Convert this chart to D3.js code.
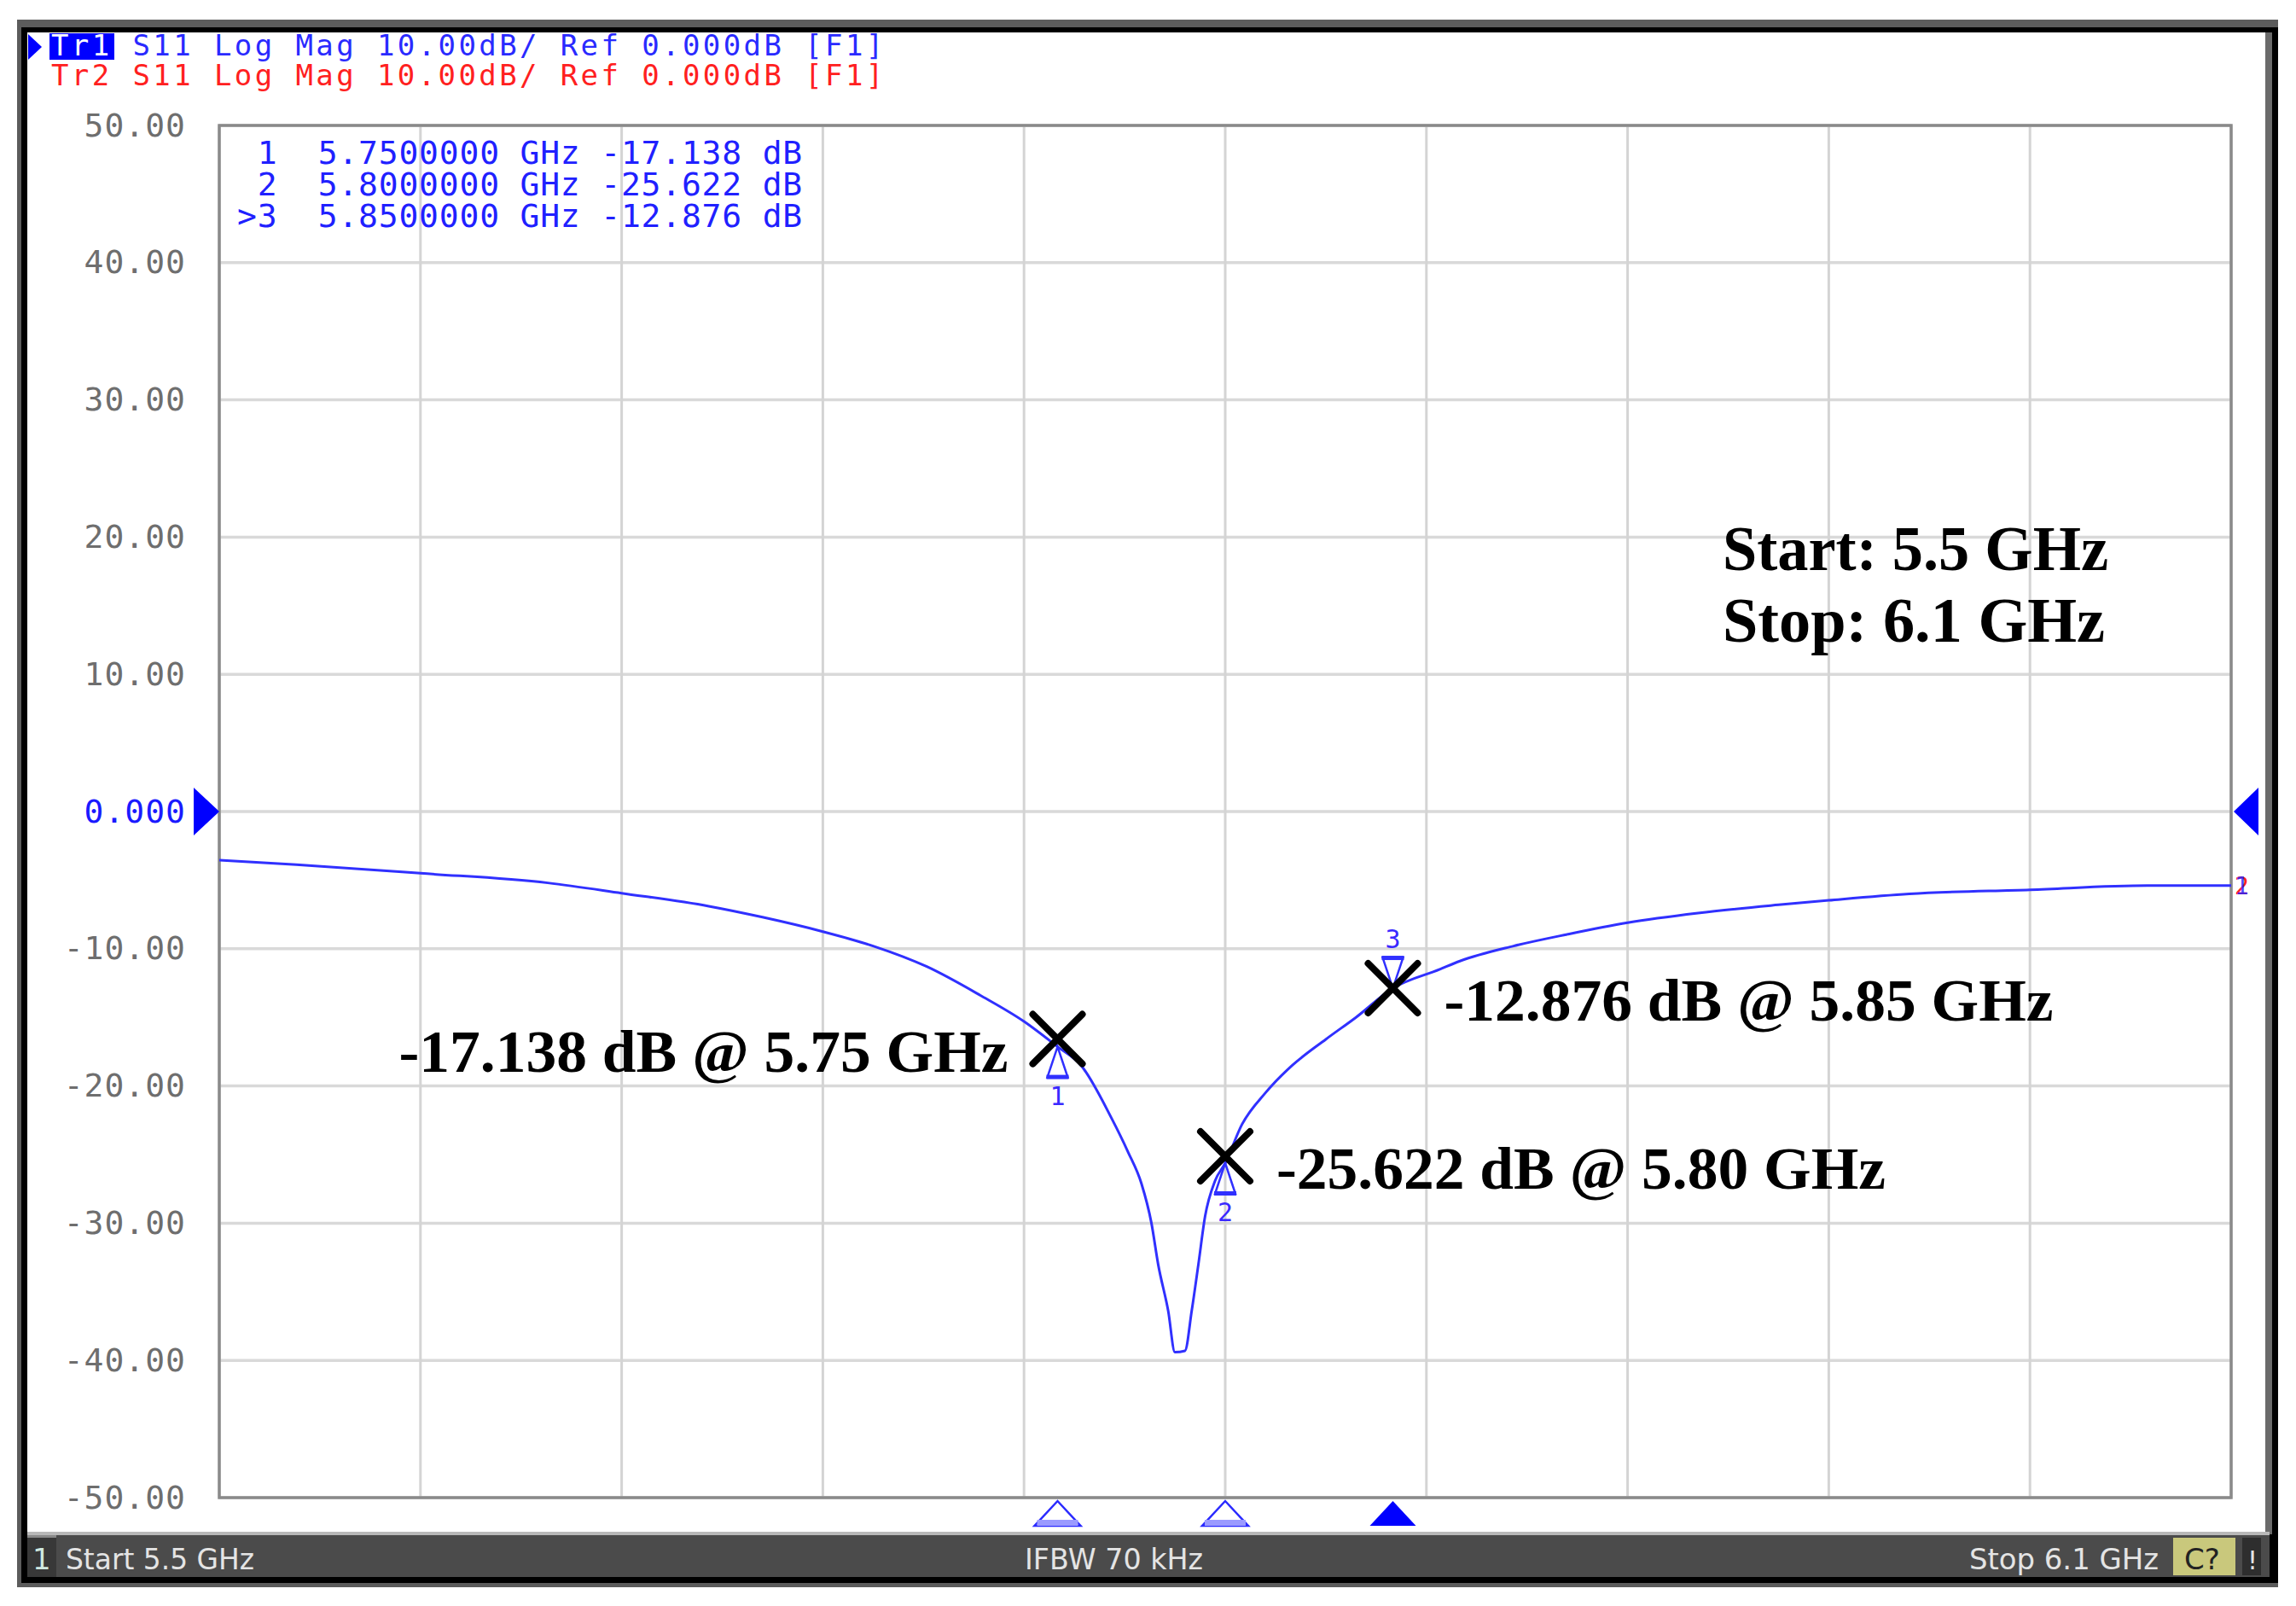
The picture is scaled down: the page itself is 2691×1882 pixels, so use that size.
<!DOCTYPE html>
<meta charset="utf-8">
<style>
body { margin: 0; background: #fff; }
text { white-space: pre; }
.mono { font-family: "DejaVu Sans Mono", monospace; }
.serif { font-family: "Palatino Linotype", "Book Antiqua", Palatino, "Liberation Serif", serif; font-weight: bold; fill: #000; }
.status { font-family: "DejaVu Sans", sans-serif; }
</style>
<script src="https://d3js.org/d3.v7.min.js"></script>
<body>
<script>

// S11 trace (GHz, dB)
var freq = [5.500, 5.523, 5.560, 5.598, 5.620, 5.646, 5.662, 5.680, 5.695, 5.711,
            5.727, 5.740, 5.750, 5.757, 5.766, 5.771, 5.775, 5.778, 5.780, 5.783,
            5.785, 5.788, 5.790, 5.792, 5.794, 5.797, 5.800, 5.805, 5.812, 5.820,
            5.830, 5.839, 5.850, 5.864, 5.870, 5.886, 5.902, 5.920, 5.941, 5.965,
            5.980, 6.004, 6.040, 6.075, 6.100];
var s11 = [-3.55, -3.87, -4.5, -5.2, -5.95, -6.9, -7.7, -8.75, -9.8, -11.3,
           -13.4, -15.3, -17.14, -18.5, -22.3, -24.8, -27.1, -30.0, -33.0, -36.4,
           -39.4, -39.3, -36.4, -33.0, -29.5, -26.9, -25.62, -22.8, -20.5, -18.5,
           -16.6, -15.0, -12.88, -11.5, -10.9, -9.8, -8.95, -8.1, -7.4, -6.8,
           -6.47, -6.0, -5.7, -5.4, -5.4];

var markerId = ["1", "2", "3"];
var markerFreq = [5.75, 5.80, 5.85];
var markerDb = [-17.138, -25.622, -12.876];
var activeMarker = "3";

var yTicks = [50, 40, 30, 20, 10, 0, -10, -20, -30, -40, -50];
var yLabels = ["50.00", "40.00", "30.00", "20.00", "10.00", "0.000",
               "-10.00", "-20.00", "-30.00", "-40.00", "-50.00"];

var startGHz = 5.5, stopGHz = 6.1, divisions = 10;
var headerTr1 = " S11 Log Mag 10.00dB/ Ref 0.000dB [F1]";
var headerTr2 = "Tr2 S11 Log Mag 10.00dB/ Ref 0.000dB [F1]";
var statusLeft = "Start 5.5 GHz", statusMid = "IFBW 70 kHz", statusRight = "Stop 6.1 GHz";
var sweepNote = ["Start: 5.5 GHz", "Stop: 6.1 GHz"];

var width = 2691, height = 1882;
var plotL = 257, plotR = 2615, plotT = 147, plotB = 1755;

var svg = d3.select("body").append("svg")
    .attr("width", width)
    .attr("height", height);

// window frame
svg.append("rect").attr("x", 20).attr("y", 23).attr("width", 2650).attr("height", 1837).attr("fill", "#5c5c5c");
svg.append("rect").attr("x", 25).attr("y", 32).attr("width", 2645).attr("height", 1823).attr("fill", "#000");
svg.append("rect").attr("x", 32).attr("y", 38).attr("width", 2623).attr("height", 1760).attr("fill", "#fff");
svg.append("rect").attr("x", 2655).attr("y", 38).attr("width", 8).attr("height", 1760).attr("fill", "#6a6a6a");

var x = d3.scaleLinear().domain([startGHz, stopGHz]).range([plotL, plotR]);
var y = d3.scaleLinear().domain([-50, 50]).range([plotB, plotT]);

var xGrid = d3.range(divisions + 1).map(function(i) { return startGHz + i * (stopGHz - startGHz) / divisions; });

// grid
var grid = svg.append("g");
grid.selectAll(".hg").data(yTicks).enter().append("line")
    .attr("x1", plotL).attr("x2", plotR)
    .attr("y1", function(d) { return y(d); }).attr("y2", function(d) { return y(d); })
    .attr("stroke", "#d9d9d9").attr("stroke-width", 3.5);
grid.selectAll(".vg").data(xGrid).enter().append("line")
    .attr("y1", plotT).attr("y2", plotB)
    .attr("x1", function(d) { return x(d); }).attr("x2", function(d) { return x(d); })
    .attr("stroke", "#d4d4d4").attr("stroke-width", 3);
svg.append("rect").attr("x", plotL).attr("y", plotT).attr("width", plotR - plotL).attr("height", plotB - plotT)
    .attr("fill", "none").attr("stroke", "#8a8a8a").attr("stroke-width", 3.5);

// y labels
var yAxis = svg.append("g")
    .attr("transform", "translate(" + plotL + ",0)")
    .call(d3.axisLeft(y).tickValues(yTicks).tickSize(0).tickPadding(39)
      .tickFormat(function(d, i) { return yLabels[i]; }));
yAxis.select(".domain").remove();
yAxis.selectAll("text")
    .attr("class", "mono")
    .attr("font-size", 38)
    .attr("letter-spacing", 1)
    .attr("fill", function(d) { return d === 0 ? "#1a1aff" : "#6e6e6e"; });

// reference level arrows
svg.append("path")
    .attr("d", "M" + (plotL - 30) + "," + (y(0) - 28) + "L" + plotL + "," + y(0) + "L" + (plotL - 30) + "," + (y(0) + 28) + "Z")
    .attr("fill", "#0000ff");
svg.append("path")
    .attr("d", "M" + (plotR + 32) + "," + (y(0) - 28) + "L" + (plotR + 3) + "," + y(0) + "L" + (plotR + 32) + "," + (y(0) + 28) + "Z")
    .attr("fill", "#0000ff");

// trace
var line = d3.line()
    .x(function(d, i) { return x(freq[i]); })
    .y(function(d) { return y(d); })
    .curve(d3.curveMonotoneX);
svg.append("path")
    .datum(s11)
    .attr("d", line)
    .attr("fill", "none")
    .attr("stroke", "#3030ff")
    .attr("stroke-width", 3);

// trace end labels
svg.append("text").attr("class", "mono").attr("x", plotR + 4).attr("y", y(s11[s11.length - 1]) + 10)
    .attr("font-size", 28).attr("fill", "#ff2020").text("2");
svg.append("text").attr("class", "mono").attr("x", plotR + 4).attr("y", y(s11[s11.length - 1]) + 10)
    .attr("font-size", 28).attr("fill", "#2020ff").attr("opacity", 0.8).text("1");

// header
svg.append("path").attr("d", "M33,40L49,55L33,70Z").attr("fill", "#0000ff");
svg.append("rect").attr("x", 58).attr("y", 39).attr("width", 76).attr("height", 31).attr("fill", "#0000ff");
var h1 = svg.append("text").attr("class", "mono").attr("x", 60).attr("y", 65)
    .attr("font-size", 34).attr("letter-spacing", 3.4).attr("fill", "#2a2aff");
h1.append("tspan").attr("fill", "#fff").text("Tr1");
h1.append("tspan").text(headerTr1);
svg.append("text").attr("class", "mono").attr("x", 60).attr("y", 100)
    .attr("font-size", 34).attr("letter-spacing", 3.4).attr("fill", "#ff2020").text(headerTr2);

// marker readout
svg.selectAll(".readout").data(markerId).enter().append("text")
    .attr("class", "mono")
    .attr("x", 278)
    .attr("y", function(d, i) { return 192 + i * 37; })
    .attr("font-size", 38)
    .attr("letter-spacing", 0.8)
    .attr("fill", "#2020ff")
    .text(function(d, i) {
      var id = (d === activeMarker ? ">" : " ") + d;
      return id + "  " + markerFreq[i].toFixed(7) + " GHz " + markerDb[i].toFixed(3) + " dB";
    });

// marker symbols on the trace
markerId.forEach(function(d, i) {
  var mx = x(markerFreq[i]), my = y(markerDb[i]);
  var g = svg.append("g");
  if (d === activeMarker) {
    g.append("path").attr("d", "M" + (mx - 12) + "," + (my - 36) + "L" + (mx + 12) + "," + (my - 36) + "L" + mx + "," + my + "Z")
      .attr("fill", "none").attr("stroke", "#3030ff").attr("stroke-width", 2.5);
    g.append("rect").attr("x", mx - 13).attr("y", my - 38).attr("width", 26).attr("height", 5).attr("fill", "#3030ff");
    g.append("text").attr("class", "mono").attr("x", mx).attr("y", my - 47).attr("text-anchor", "middle")
      .attr("font-size", 30).attr("fill", "#3a2aff").text(d);
  } else {
    g.append("path").attr("d", "M" + mx + "," + my + "L" + (mx + 12) + "," + (my + 36) + "L" + (mx - 12) + "," + (my + 36) + "Z")
      .attr("fill", "none").attr("stroke", "#3030ff").attr("stroke-width", 2.5);
    g.append("rect").attr("x", mx - 13).attr("y", my + 33).attr("width", 26).attr("height", 5).attr("fill", "#3030ff");
    g.append("text").attr("class", "mono").attr("x", mx).attr("y", my + 68).attr("text-anchor", "middle")
      .attr("font-size", 30).attr("fill", "#3a2aff").text(d);
  }
  // triangles under the graticule
  var ty = plotB + 4, th = 29, tw = 27;
  if (d === activeMarker) {
    g.append("path").attr("d", "M" + mx + "," + ty + "L" + (mx + tw) + "," + (ty + th) + "L" + (mx - tw) + "," + (ty + th) + "Z")
      .attr("fill", "#0000ff");
  } else {
    g.append("path").attr("d", "M" + mx + "," + ty + "L" + (mx + tw) + "," + (ty + th) + "L" + (mx - tw) + "," + (ty + th) + "Z")
      .attr("fill", "#fff").attr("stroke", "#2a2aff").attr("stroke-width", 2.5);
    g.append("rect").attr("x", mx - tw + 3).attr("y", ty + th - 7).attr("width", 2 * tw - 6).attr("height", 7).attr("fill", "#9a9aff");
  }
});

// annotation crosses and text
var annSide = ["left", "right", "right"];
var crossDy = [-9, -8, 0];
markerId.forEach(function(d, i) {
  var mx = x(markerFreq[i]), my = y(markerDb[i]) + crossDy[i];
  var s = 29;
  svg.append("path")
    .attr("d", "M" + (mx - s) + "," + (my - s) + "L" + (mx + s) + "," + (my + s) + "M" + (mx + s) + "," + (my - s) + "L" + (mx - s) + "," + (my + s))
    .attr("stroke", "#000").attr("stroke-width", 8).attr("stroke-linecap", "round");
  var label = markerDb[i].toFixed(3) + " dB @ " + markerFreq[i].toFixed(2) + " GHz";
  svg.append("text")
    .attr("class", "serif")
    .attr("x", annSide[i] === "left" ? mx - 58 : mx + 60)
    .attr("y", my + 38)
    .attr("text-anchor", annSide[i] === "left" ? "end" : "start")
    .attr("font-size", 70)
    .attr("textLength", 714)
    .attr("lengthAdjust", "spacingAndGlyphs")
    .text(label);
});

svg.selectAll(".note").data(sweepNote).enter().append("text")
    .attr("class", "serif")
    .attr("x", 2019)
    .attr("y", function(d, i) { return 668 + i * 84; })
    .attr("font-size", 75)
    .attr("textLength", function(d, i) { return i ? 448 : 452; })
    .attr("lengthAdjust", "spacingAndGlyphs")
    .text(function(d) { return d; });

// status bar
svg.append("rect").attr("x", 32).attr("y", 1795).attr("width", 2628).attr("height", 4).attr("fill", "#b8b8b8");
svg.append("rect").attr("x", 32).attr("y", 1799).attr("width", 2628).attr("height", 49).attr("fill", "#4b4b4b");
svg.append("rect").attr("x", 32).attr("y", 1799).attr("width", 34).attr("height", 49).attr("fill", "#383838");
svg.append("rect").attr("x", 32).attr("y", 1799).attr("width", 34).attr("height", 3).attr("fill", "#8a8a8a");
svg.append("text").attr("class", "status").attr("x", 38).attr("y", 1839).attr("font-size", 34).attr("fill", "#cfe8e0").text("1");
svg.append("text").attr("class", "status").attr("x", 77).attr("y", 1839).attr("font-size", 34).attr("fill", "#e4e4e4")
    .attr("textLength", 221).attr("lengthAdjust", "spacingAndGlyphs").text(statusLeft);
svg.append("text").attr("class", "status").attr("x", 1201).attr("y", 1839).attr("font-size", 34).attr("fill", "#e4e4e4")
    .attr("textLength", 209).attr("lengthAdjust", "spacingAndGlyphs").text(statusMid);
svg.append("text").attr("class", "status").attr("x", 2308).attr("y", 1839).attr("font-size", 34).attr("fill", "#e4e4e4")
    .attr("textLength", 222).attr("lengthAdjust", "spacingAndGlyphs").text(statusRight);
svg.append("rect").attr("x", 2547).attr("y", 1802).attr("width", 73).attr("height", 44).attr("fill", "#c9c87c");
svg.append("text").attr("class", "status").attr("x", 2560).attr("y", 1839).attr("font-size", 34)
    .attr("fill", "#222").text("C?");
svg.append("rect").attr("x", 2628).attr("y", 1802).attr("width", 22).attr("height", 44).attr("fill", "#2e2e2e");
svg.append("text").attr("class", "status").attr("x", 2634).attr("y", 1839).attr("font-size", 30).attr("fill", "#e4e4e4").text("!");

</script>
